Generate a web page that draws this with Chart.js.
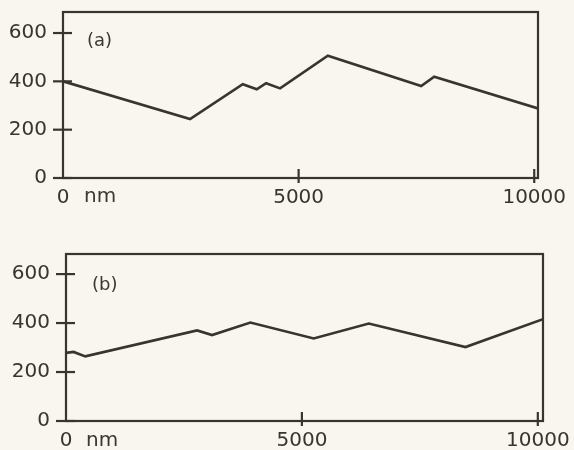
<!DOCTYPE html>
<html>
<head>
<meta charset="utf-8">
<script src="https://cdn.jsdelivr.net/npm/chart.js@4/dist/chart.umd.min.js"></script>
<style>
  html, body { margin: 0; padding: 0; background: #f8f6ef; }
  body { width: 574px; height: 450px; position: relative; overflow: hidden; font-family: "DejaVu Sans", sans-serif; color: #3a3834; }
  .wrap { position: absolute; left: 0; width: 574px; }
  .lbl { position: absolute; font-size: 18px; color: #3a3834; }
  .unit { position: absolute; font-size: 20px; color: #3a3834; }
</style>
</head>
<body>
<div class="wrap" style="top:0;height:215px"><canvas id="ca" width="574" height="215"></canvas></div>
<div class="wrap" style="top:225px;height:225px"><canvas id="cb" width="574" height="225"></canvas></div>
<div class="lbl" style="left:87px;top:29px">(a)</div>
<div class="lbl" style="left:92px;top:273px">(b)</div>
<div class="unit" style="left:84px;top:183px">nm</div>
<div class="unit" style="left:86px;top:427px">nm</div>
<script>
// Panel (a)
const distanceA = [0, 2696, 3815, 4112, 4310, 4607, 5620, 7601, 7877, 10080];
const heightA   = [400, 244, 388, 367, 392, 371, 506, 381, 419, 288];
// Panel (b)
const distanceB = [0, 161, 409, 2778, 3096, 3908, 5250, 6417, 8467, 10110];
const heightB   = [278, 282, 264, 370, 351, 402, 337, 398, 302, 416];
// Axis ticks
const xTicks = [0, 5000, 10000];
const yTicks = [0, 200, 400, 600];
const xMaxA = 10080, yMaxA = 687;
const xMaxB = 10110, yMaxB = 682;

const INK = '#37352f';

const framePlugin = {
  id: 'frame',
  afterDatasetsDraw(chart) {
    const {ctx, chartArea: a, scales} = chart;
    ctx.save();
    ctx.strokeStyle = INK;
    ctx.lineWidth = 2.2;
    ctx.strokeRect(a.left, a.top, a.right - a.left, a.bottom - a.top);
    // crossing tick marks
    scales.y.ticks.forEach(t => {
      const p = scales.y.getPixelForValue(t.value);
      ctx.beginPath(); ctx.moveTo(a.left - 10, p); ctx.lineTo(a.left + 9, p); ctx.stroke();
    });
    scales.x.ticks.forEach(t => {
      if (t.value === 0) return;
      const p = scales.x.getPixelForValue(t.value);
      ctx.beginPath(); ctx.moveTo(p, a.bottom - 9); ctx.lineTo(p, a.bottom + 5); ctx.stroke();
    });
    ctx.restore();
  }
};

function makeChart(id, xs, ys, xMax, yMax, pad) {
  return new Chart(document.getElementById(id), {
    type: 'line',
    data: {
      datasets: [{
        data: xs.map((x, i) => ({x: x, y: ys[i]})),
        borderColor: INK,
        borderWidth: 2.6,
        pointRadius: 0,
        tension: 0,
        fill: false
      }]
    },
    options: {
      responsive: false,
      animation: false,
      layout: { padding: {left: pad.left, top: pad.top, right: pad.right, bottom: 0} },
      plugins: { legend: { display: false }, tooltip: { enabled: false } },
      scales: {
        x: {
          type: 'linear', min: 0, max: xMax,
          grid: { display: false, drawTicks: false },
          border: { display: false },
          afterBuildTicks: s => { s.ticks = xTicks.map(v => ({value: v})); },
          afterFit: s => { s.height = pad.xh; s.paddingLeft = 0; s.paddingRight = 0; },
          ticks: { color: INK, font: { family: 'DejaVu Sans', size: 20 }, padding: 8, maxRotation: 0,
                   callback: v => String(v) }
        },
        y: {
          type: 'linear', min: 0, max: yMax,
          grid: { display: false, drawTicks: false },
          border: { display: false },
          afterBuildTicks: s => { s.ticks = yTicks.map(v => ({value: v})); },
          afterFit: s => { s.width = pad.yw; s.paddingTop = 0; s.paddingBottom = 0; },
          ticks: { color: INK, font: { family: 'DejaVu Sans', size: 20 }, padding: 16,
                   callback: v => String(v) }
        }
      }
    },
    plugins: [framePlugin]
  });
}

makeChart('ca', distanceA, heightA, xMaxA, yMaxA, {left: 0, top: 12, right: 36, xh: 37, yw: 63});
makeChart('cb', distanceB, heightB, xMaxB, yMaxB, {left: 0, top: 29, right: 31, xh: 29, yw: 66});
</script>
</body>
</html>
